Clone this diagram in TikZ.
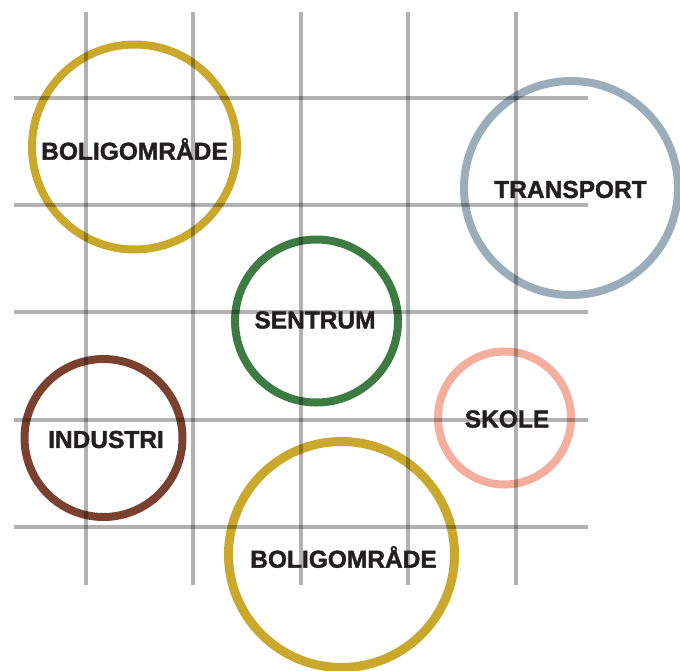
\documentclass[tikz,border=0pt]{standalone}
\usepackage{fontspec}
\setmainfont{Liberation Sans}[BoldFeatures={FakeBold=1.6}]
\definecolor{gold}{HTML}{C9A82B}
\definecolor{steel}{HTML}{9BADB9}
\definecolor{forest}{HTML}{3E7B43}
\definecolor{salmon}{HTML}{F5AE9D}
\definecolor{rust}{HTML}{7B4130}
\definecolor{ink}{HTML}{231F20}
\tikzset{
  ring/.style={circle, draw=#1, line width=8pt, inner sep=0pt},
  gridline/.style={draw=black, line width=3.2pt, draw opacity=0.3},
  lbl/.style={font=\fontsize{24.5}{28}\selectfont\bfseries, text=ink, inner sep=0pt}
}
\begin{document}
\begin{tikzpicture}[x=1pt,y=-1pt]
\useasboundingbox (0,0) rectangle (680,670);
\fill[white] (0,0) rectangle (680,670);
% circles
\node[ring=gold, minimum size=205pt] (b1) at (134.5,147) {};
\node[ring=steel, minimum size=214pt] (tr) at (571,188) {};
\node[ring=forest, minimum size=163pt] (se) at (316.5,321) {};
\node[ring=salmon, minimum size=133pt] (sk) at (504.5,418) {};
\node[ring=rust, minimum size=158pt] (in) at (103.5,438) {};
\node[ring=gold, minimum size=226pt, line width=9pt] (b2) at (341.5,554.5) {};
% grid
\foreach \x in {86,193,301,408,516} {
  \coordinate (vt\x) at (\x,12);
  \coordinate (vb\x) at (\x,585);
  \draw[gridline] (vt\x) -- (vb\x);
}
\foreach \y in {98,205,312,420,527} {
  \coordinate (hl\y) at (14,\y);
  \coordinate (hr\y) at (588,\y);
  \draw[gridline] (hl\y) -- (hr\y);
}
% labels
\node[lbl] (tb1) at (134.5,149) {BOLIGOMRÅDE};
\node[lbl] (ttr) at (570.5,189.5) {TRANSPORT};
\node[lbl] (tse) at (315,320) {SENTRUM};
\node[lbl] (tsk) at (507,419) {SKOLE};
\node[lbl] (tin) at (106,439.5) {INDUSTRI};
\node[lbl] (tb2) at (343.5,557) {BOLIGOMRÅDE};
\end{tikzpicture}
\end{document}
